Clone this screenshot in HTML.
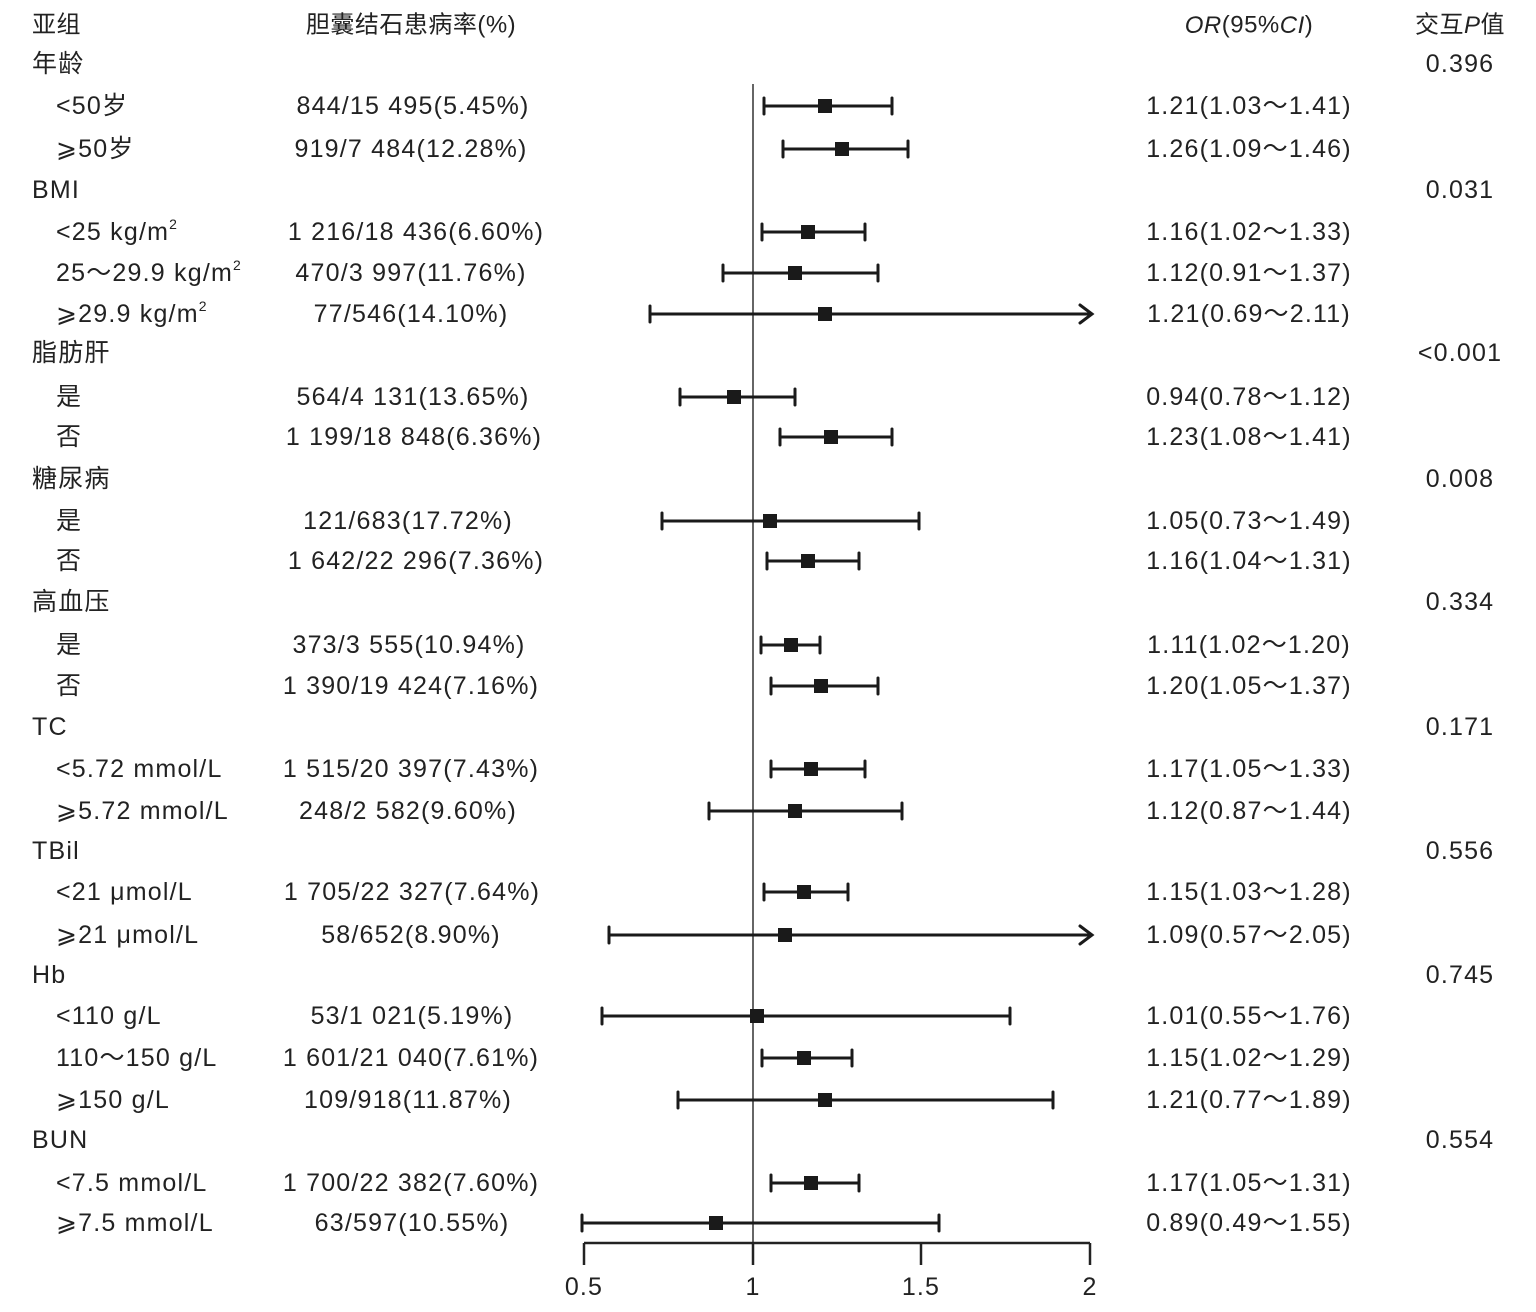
<!DOCTYPE html>
<html><head><meta charset="utf-8"><style>
html,body{margin:0;padding:0;background:#fff;}
svg text{font-family:"Liberation Sans","Noto Sans CJK SC",sans-serif;font-size:25px;letter-spacing:1.2px;fill:#222;dominant-baseline:central;}
svg text.h{font-size:24px;letter-spacing:0.5px;}
</style></head><body>
<svg width="1536" height="1307" viewBox="0 0 1536 1307" xmlns="http://www.w3.org/2000/svg">
<text class="h" x="32" y="25">亚组</text>
<text class="h" x="411" y="25" text-anchor="middle">胆囊结石患病率(%)</text>
<text class="h" x="1249" y="25" text-anchor="middle"><tspan font-style="italic">OR</tspan>(95%<tspan font-style="italic">CI</tspan>)</text>
<text class="h" x="1460" y="25" text-anchor="middle">交互<tspan font-style="italic">P</tspan>值</text>

<g id="labels">
<text x="32" y="64">年龄</text><text x="1460" y="64" text-anchor="middle">0.396</text>
<text x="56" y="106">&lt;50岁</text><text x="413" y="106" text-anchor="middle">844/15 495(5.45%)</text><text x="1249" y="106" text-anchor="middle">1.21(1.03～1.41)</text>
<text x="56" y="149">⩾50岁</text><text x="411" y="149" text-anchor="middle">919/7 484(12.28%)</text><text x="1249" y="149" text-anchor="middle">1.26(1.09～1.46)</text>
<text x="32" y="190">BMI</text><text x="1460" y="190" text-anchor="middle">0.031</text>
<text x="56" y="232">&lt;25 kg/m<tspan font-size="14" dy="-8">2</tspan></text><text x="416" y="232" text-anchor="middle">1 216/18 436(6.60%)</text><text x="1249" y="232" text-anchor="middle">1.16(1.02～1.33)</text>
<text x="56" y="273">25～29.9 kg/m<tspan font-size="14" dy="-8">2</tspan></text><text x="411" y="273" text-anchor="middle">470/3 997(11.76%)</text><text x="1249" y="273" text-anchor="middle">1.12(0.91～1.37)</text>
<text x="56" y="314">⩾29.9 kg/m<tspan font-size="14" dy="-8">2</tspan></text><text x="411" y="314" text-anchor="middle">77/546(14.10%)</text><text x="1249" y="314" text-anchor="middle">1.21(0.69～2.11)</text>
<text x="32" y="353">脂肪肝</text><text x="1460" y="353" text-anchor="middle">&lt;0.001</text>
<text x="56" y="397">是</text><text x="413" y="397" text-anchor="middle">564/4 131(13.65%)</text><text x="1249" y="397" text-anchor="middle">0.94(0.78～1.12)</text>
<text x="56" y="437">否</text><text x="414" y="437" text-anchor="middle">1 199/18 848(6.36%)</text><text x="1249" y="437" text-anchor="middle">1.23(1.08～1.41)</text>
<text x="32" y="479">糖尿病</text><text x="1460" y="479" text-anchor="middle">0.008</text>
<text x="56" y="521">是</text><text x="408" y="521" text-anchor="middle">121/683(17.72%)</text><text x="1249" y="521" text-anchor="middle">1.05(0.73～1.49)</text>
<text x="56" y="561">否</text><text x="416" y="561" text-anchor="middle">1 642/22 296(7.36%)</text><text x="1249" y="561" text-anchor="middle">1.16(1.04～1.31)</text>
<text x="32" y="602">高血压</text><text x="1460" y="602" text-anchor="middle">0.334</text>
<text x="56" y="645">是</text><text x="409" y="645" text-anchor="middle">373/3 555(10.94%)</text><text x="1249" y="645" text-anchor="middle">1.11(1.02～1.20)</text>
<text x="56" y="686">否</text><text x="411" y="686" text-anchor="middle">1 390/19 424(7.16%)</text><text x="1249" y="686" text-anchor="middle">1.20(1.05～1.37)</text>
<text x="32" y="727">TC</text><text x="1460" y="727" text-anchor="middle">0.171</text>
<text x="56" y="769">&lt;5.72 mmol/L</text><text x="411" y="769" text-anchor="middle">1 515/20 397(7.43%)</text><text x="1249" y="769" text-anchor="middle">1.17(1.05～1.33)</text>
<text x="56" y="811">⩾5.72 mmol/L</text><text x="408" y="811" text-anchor="middle">248/2 582(9.60%)</text><text x="1249" y="811" text-anchor="middle">1.12(0.87～1.44)</text>
<text x="32" y="851">TBil</text><text x="1460" y="851" text-anchor="middle">0.556</text>
<text x="56" y="892">&lt;21 μmol/L</text><text x="412" y="892" text-anchor="middle">1 705/22 327(7.64%)</text><text x="1249" y="892" text-anchor="middle">1.15(1.03～1.28)</text>
<text x="56" y="935">⩾21 μmol/L</text><text x="411" y="935" text-anchor="middle">58/652(8.90%)</text><text x="1249" y="935" text-anchor="middle">1.09(0.57～2.05)</text>
<text x="32" y="975">Hb</text><text x="1460" y="975" text-anchor="middle">0.745</text>
<text x="56" y="1016">&lt;110 g/L</text><text x="412" y="1016" text-anchor="middle">53/1 021(5.19%)</text><text x="1249" y="1016" text-anchor="middle">1.01(0.55～1.76)</text>
<text x="56" y="1058">110～150 g/L</text><text x="411" y="1058" text-anchor="middle">1 601/21 040(7.61%)</text><text x="1249" y="1058" text-anchor="middle">1.15(1.02～1.29)</text>
<text x="56" y="1100">⩾150 g/L</text><text x="408" y="1100" text-anchor="middle">109/918(11.87%)</text><text x="1249" y="1100" text-anchor="middle">1.21(0.77～1.89)</text>
<text x="32" y="1140">BUN</text><text x="1460" y="1140" text-anchor="middle">0.554</text>
<text x="56" y="1183">&lt;7.5 mmol/L</text><text x="411" y="1183" text-anchor="middle">1 700/22 382(7.60%)</text><text x="1249" y="1183" text-anchor="middle">1.17(1.05～1.31)</text>
<text x="56" y="1223">⩾7.5 mmol/L</text><text x="412" y="1223" text-anchor="middle">63/597(10.55%)</text><text x="1249" y="1223" text-anchor="middle">0.89(0.49～1.55)</text>
</g>

<line x1="753" y1="84" x2="753" y2="1243" stroke="#666" stroke-width="2"/>
<line x1="584" y1="1243" x2="1090" y2="1243" stroke="#222" stroke-width="2.5"/>
<g stroke="#222" stroke-width="2.5">
<line x1="584" y1="1243" x2="584" y2="1265"/><line x1="753" y1="1243" x2="753" y2="1265"/>
<line x1="921" y1="1243" x2="921" y2="1265"/><line x1="1090" y1="1243" x2="1090" y2="1265"/>
</g>
<text x="584" y="1287" text-anchor="middle">0.5</text>
<text x="753" y="1287" text-anchor="middle">1</text>
<text x="921" y="1287" text-anchor="middle">1.5</text>
<text x="1090" y="1287" text-anchor="middle">2</text>

<g stroke="#1a1a1a" stroke-width="3" fill="none" stroke-linecap="round">
<path d="M764 106H892M764 98V114M892 98V114"/>
<path d="M783 149H908M783 141V157M908 141V157"/>
<path d="M762 232H865M762 224V240M865 224V240"/>
<path d="M723 273H878M723 265V281M878 265V281"/>
<path d="M650 314H1092M650 306V322M1080 305L1092 314L1080 323"/>
<path d="M680 397H795M680 389V405M795 389V405"/>
<path d="M780 437H892M780 429V445M892 429V445"/>
<path d="M662 521H919M662 513V529M919 513V529"/>
<path d="M767 561H859M767 553V569M859 553V569"/>
<path d="M761 645H820M761 637V653M820 637V653"/>
<path d="M771 686H878M771 678V694M878 678V694"/>
<path d="M771 769H865M771 761V777M865 761V777"/>
<path d="M709 811H902M709 803V819M902 803V819"/>
<path d="M764 892H848M764 884V900M848 884V900"/>
<path d="M609 935H1092M609 927V943M1080 926L1092 935L1080 944"/>
<path d="M602 1016H1010M602 1008V1024M1010 1008V1024"/>
<path d="M762 1058H852M762 1050V1066M852 1050V1066"/>
<path d="M678 1100H1053M678 1092V1108M1053 1092V1108"/>
<path d="M771 1183H859M771 1175V1191M859 1175V1191"/>
<path d="M582 1223H939M582 1215V1231M939 1215V1231"/>
</g>
<g fill="#1a1a1a">
<rect x="818" y="99" width="14" height="14"/>
<rect x="835" y="142" width="14" height="14"/>
<rect x="801" y="225" width="14" height="14"/>
<rect x="788" y="266" width="14" height="14"/>
<rect x="818" y="307" width="14" height="14"/>
<rect x="727" y="390" width="14" height="14"/>
<rect x="824" y="430" width="14" height="14"/>
<rect x="763" y="514" width="14" height="14"/>
<rect x="801" y="554" width="14" height="14"/>
<rect x="784" y="638" width="14" height="14"/>
<rect x="814" y="679" width="14" height="14"/>
<rect x="804" y="762" width="14" height="14"/>
<rect x="788" y="804" width="14" height="14"/>
<rect x="797" y="885" width="14" height="14"/>
<rect x="778" y="928" width="14" height="14"/>
<rect x="750" y="1009" width="14" height="14"/>
<rect x="797" y="1051" width="14" height="14"/>
<rect x="818" y="1093" width="14" height="14"/>
<rect x="804" y="1176" width="14" height="14"/>
<rect x="709" y="1216" width="14" height="14"/>
</g>
</svg>
</body></html>
